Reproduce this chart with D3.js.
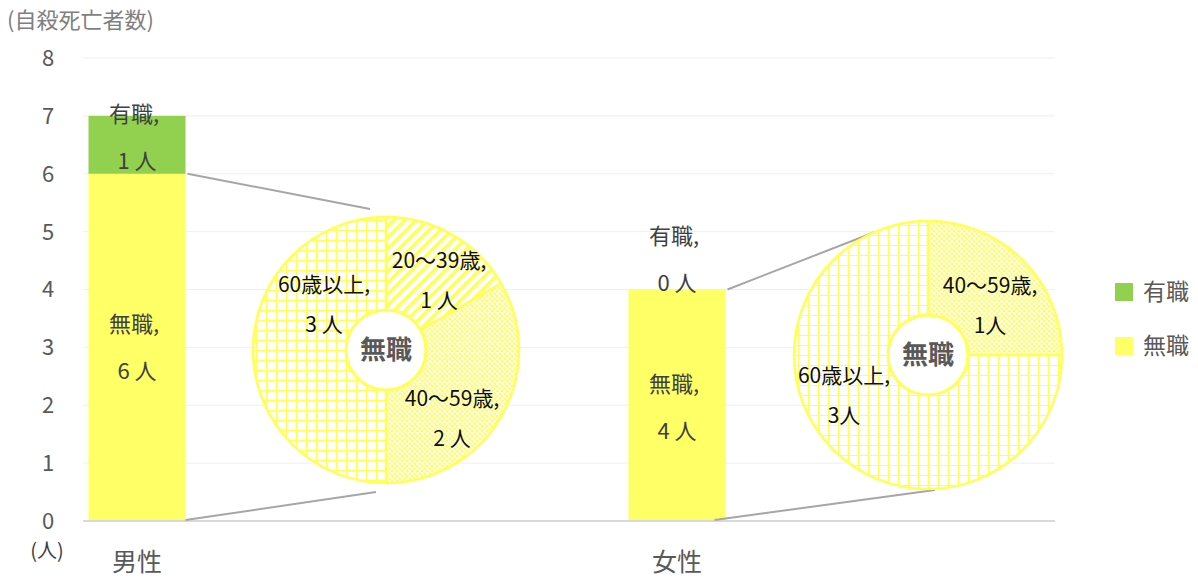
<!DOCTYPE html>
<html>
<head>
<meta charset="utf-8">
<script src="https://cdn.jsdelivr.net/npm/d3@7"></script>
<style>
  html, body { margin: 0; padding: 0; background: #fff; }
  svg { display: block; font-family: "Noto Sans CJK JP", "Noto Sans", sans-serif; }
</style>
</head>
<body>
<svg id="chart" width="1198" height="578"></svg>
<script>
// ---------- data ----------
const categories = ["男性", "女性"];
const seriesNames = ["有職", "無職"];
const employed = [1, 0];
const unemployed = [6, 4];
const ageGroups = ["20〜39歳", "40〜59歳", "60歳以上"];
const maleAges = [1, 2, 3];
const femaleAges = [0, 1, 3];
const yTicks = [0, 1, 2, 3, 4, 5, 6, 7, 8];
const yTitle = "(自殺死亡者数)";
const yUnit = "(人)";
const pieTitle = "無職";

// ---------- layout ----------
const plot = { left: 83, right: 1055, top: 58, bottom: 521 };
const colors = { "有職": "#92d050", "無職": "#ffff66" };
const pieStroke = "#ffff55";
const svg = d3.select("#chart");

const xc = d3.scalePoint().domain(categories).range([137, 677]);
const y = d3.scaleLinear().domain([0, 8]).range([plot.bottom, plot.top]);
const barW = 97;
const barX = c => xc(c) - barW / 2;

// patterns
const defs = svg.append("defs");
const pGrid = defs.append("pattern").attr("id", "pGrid").attr("patternUnits", "userSpaceOnUse")
  .attr("width", 10).attr("height", 10);
pGrid.append("rect").attr("width", 10).attr("height", 10).attr("fill", "#fff");
pGrid.append("path").attr("d", "M0,0H10M0,0V10").attr("stroke", pieStroke).attr("stroke-width", 2.2).attr("fill", "none");

const pDiag = defs.append("pattern").attr("id", "pDiag").attr("patternUnits", "userSpaceOnUse")
  .attr("width", 8).attr("height", 8).attr("patternTransform", "rotate(45)");
pDiag.append("rect").attr("width", 8).attr("height", 8).attr("fill", "#fff");
pDiag.append("rect").attr("x", 0).attr("y", 0).attr("width", 3.5).attr("height", 8).attr("fill", pieStroke);

const pDot = defs.append("pattern").attr("id", "pDot").attr("patternUnits", "userSpaceOnUse")
  .attr("width", 5).attr("height", 5);
pDot.append("rect").attr("width", 5).attr("height", 5).attr("fill", "#fff");
pDot.append("rect").attr("x", 0).attr("y", 0).attr("width", 2.4).attr("height", 2.4).attr("fill", pieStroke);
pDot.append("rect").attr("x", 2.5).attr("y", 2.5).attr("width", 2.4).attr("height", 2.4).attr("fill", pieStroke);
const ageFill = { "20〜39歳": "url(#pDiag)", "40〜59歳": "url(#pDot)", "60歳以上": "url(#pGrid)" };

// gridlines
svg.append("g").selectAll("line").data(yTicks.filter(t => t > 0)).join("line")
  .attr("x1", plot.left).attr("x2", plot.right)
  .attr("y1", d => y(d)).attr("y2", d => y(d))
  .attr("stroke", "#efefef").attr("stroke-width", 1);

// y tick labels
svg.append("g").selectAll("text").data(yTicks).join("text")
  .attr("x", 48).attr("y", d => y(d)).attr("dy", "0.36em")
  .attr("text-anchor", "middle").attr("font-size", 22).attr("fill", "#595959")
  .text(d => d);

svg.append("text").attr("x", 7).attr("y", 28).attr("font-size", 22).attr("fill", "#7f7f7f").text(yTitle);
svg.append("text").attr("x", 47).attr("y", 558).attr("text-anchor", "middle").attr("font-size", 20).attr("fill", "#404040").text(yUnit);

// stacked bars
const stackData = categories.map((c, i) => ({ cat: c, "有職": employed[i], "無職": unemployed[i] }));
const stack = d3.stack().keys(["無職", "有職"])(stackData);
svg.append("g").selectAll("g").data(stack).join("g")
  .attr("fill", s => colors[s.key])
  .selectAll("rect").data(s => s).join("rect")
  .attr("x", d => barX(d.data.cat)).attr("width", barW)
  .attr("y", d => y(d[1])).attr("height", d => y(d[0]) - y(d[1]));

// x axis line
svg.append("line").attr("x1", plot.left).attr("x2", plot.right)
  .attr("y1", plot.bottom).attr("y2", plot.bottom).attr("stroke", "#d9d9d9").attr("stroke-width", 2);

// category labels
svg.append("g").selectAll("text").data(categories).join("text")
  .attr("x", c => xc(c)).attr("y", 571)
  .attr("text-anchor", "middle").attr("font-size", 25).attr("fill", "#595959")
  .text(c => c);

// bar labels
const barLabelShift = { "男性": { "有職": -8, "無職": 0 }, "女性": { "有職": 0, "無職": 2 } };
stack.forEach(s => {
  s.forEach(d => {
    const cat = d.data.cat, key = s.key, v = d.data[key];
    let cy;
    if (v === 0) cy = y(d[1]) - 30; else cy = (y(d[0]) + y(d[1])) / 2;
    cy += barLabelShift[cat][key];
    const g = svg.append("g").attr("font-size", 22).attr("fill", "#404040").attr("text-anchor", "middle");
    const cx = xc(cat);
    g.append("text").attr("x", cx - 3).attr("y", cy - 23).attr("dy", "0.36em").text(key + ",");
    g.append("text").attr("x", cx).attr("y", cy + 24).attr("dy", "0.36em").text(v + "\u00a0人");
  });
});

// pies
const pies = [
  { cat: "男性", values: maleAges, cx: 386, cy: 350, r: 133, sep: "\u00a0",
    labelPos: { "20〜39歳": [53, -70], "40〜59歳": [66, 68], "60歳以上": [-62, -46] },
    link: { top: [-16, -141], bottom: [-10, 142] }, startShift: 0 },
  { cat: "女性", values: femaleAges, cx: 928, cy: 355, r: 134, sep: "",
    labelPos: { "40〜59歳": [62, -50], "60歳以上": [-84, 40] },
    link: { top: [-53, -123], bottom: [7, 135] }, startShift: -11 }
];
const pieGen = d3.pie().sort(null).value(d => d.v);
const arcGen = d3.arc().innerRadius(0);
const innerR = 40;

pies.forEach(p => {
  const i = categories.indexOf(p.cat);
  const bx = barX(p.cat) + barW;
  svg.append("line").attr("x1", bx + 2).attr("y1", y(unemployed[i]))
    .attr("x2", p.cx + p.link.top[0]).attr("y2", p.cy + p.link.top[1])
    .attr("stroke", "#a6a6a6").attr("stroke-width", 2);
  svg.append("line").attr("x1", bx + p.startShift).attr("y1", y(0) - 1)
    .attr("x2", p.cx + p.link.bottom[0]).attr("y2", p.cy + p.link.bottom[1])
    .attr("stroke", "#a6a6a6").attr("stroke-width", 2);

  const g = svg.append("g").attr("transform", `translate(${p.cx},${p.cy})`);
  const data = ageGroups.map((a, k) => ({ a, v: p.values[k] })).filter(d => d.v > 0);
  const arcs = pieGen(data);
  g.selectAll("path").data(arcs).join("path")
    .attr("d", d => arcGen.outerRadius(p.r)(d))
    .attr("fill", d => ageFill[d.data.a])
    .attr("stroke", pieStroke).attr("stroke-width", 2.5).attr("stroke-linejoin", "round");
  g.append("circle").attr("r", innerR).attr("fill", "#fff").attr("stroke", pieStroke).attr("stroke-width", 3);
  g.append("text").attr("y", 0).attr("dy", "0.36em").attr("text-anchor", "middle")
    .attr("font-size", 26).attr("font-weight", "bold").attr("fill", "#595959").text(pieTitle);
  arcs.forEach(d => {
    const pos = p.labelPos[d.data.a];
    const t = g.append("g").attr("font-size", 21).attr("fill", "#0d0d0d").attr("text-anchor", "middle");
    t.append("text").attr("x", pos[0]).attr("y", pos[1] - 20).attr("dy", "0.36em").text(d.data.a + ",");
    t.append("text").attr("x", pos[0]).attr("y", pos[1] + 20).attr("dy", "0.36em").text(d.data.v + p.sep + "人");
  });
});

// legend
const lg = svg.append("g").selectAll("g").data(seriesNames).join("g")
  .attr("transform", (d, k) => `translate(1115, ${283 + k * 54})`);
lg.append("rect").attr("width", 18).attr("height", 18).attr("fill", d => colors[d]);
lg.append("text").attr("x", 28).attr("y", 9).attr("dy", "0.36em").attr("font-size", 23).attr("fill", "#595959").text(d => d);
</script>
</body>
</html>
